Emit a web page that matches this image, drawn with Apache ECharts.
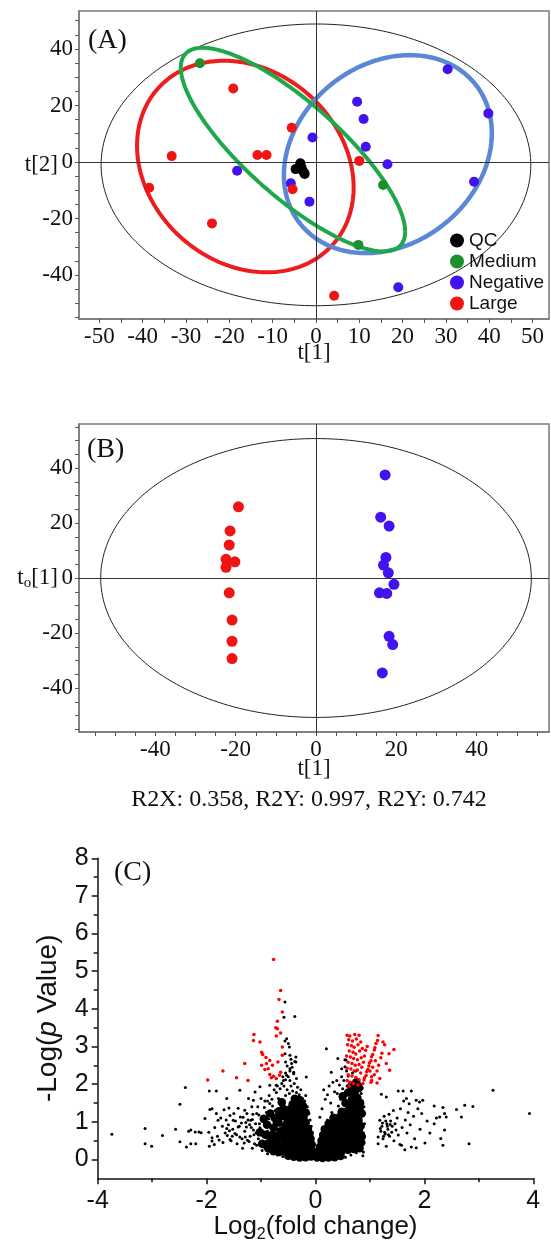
<!DOCTYPE html>
<html>
<head>
<meta charset="utf-8">
<script src="https://cdn.jsdelivr.net/npm/echarts@6/dist/echarts.min.js"></script>
<style>
html,body{margin:0;padding:0;background:#fff;}
#chart{width:551px;height:1247px;}
</style>
</head>
<body>
<div id="chart"></div>
<script>
// ---------- (A) PCA score plot: t[1] vs t[2] ----------
const qcScores = [[-3.6,-0.4],[-4.7,-2.5],[-3.3,-2.0],[-2.6,-4.2],[-2.9,-3.4]];
const mediumScores = [[-26.8,34.9],[15.5,-8.1],[9.8,-29.3]];
const negativeScores = [[-18.2,-3.1],[30.4,32.8],[39.8,17.2],[9.5,21.3],[11.0,15.2],[-0.8,8.7],
  [11.5,5.4],[16.5,-0.8],[36.5,-7.0],[-5.8,-7.5],[-1.5,-14.0],[19.0,-44.3]];
const largeScores = [[-19.1,26.0],[-33.3,2.1],[-13.5,2.5],[-11.4,2.5],[-38.5,-9.1],[-5.6,12.1],
  [10.0,0.4],[-5.4,-9.6],[4.2,-47.3],[-24.0,-21.7]];
// ellipses: [centre x, centre y, half width, half height, y offset of the rightmost point]
const t2EllipseA = [0, -1, 49.6, 49.8, 0];
const largeEllipse = [-16.3, -1.6, 25.0, 37.4, -7.4];
const mediumEllipse = [-5.3, 4.4, 25.9, 36.0, -29.0];
const negativeEllipse = [16.6, 2.8, 24.0, 35.0, 7.4];
const ticksAx = [-50,-45,-40,-35,-30,-25,-20,-15,-10,-5,0,5,10,15,20,25,30,35,40,45,50];
const labelsAx = [-50,-40,-30,-20,-10,0,10,20,30,40,50];
const ticksAy = [-55,-50,-45,-40,-35,-30,-25,-20,-15,-10,-5,0,5,10,15,20,25,30,35,40,45,50];
const labelsAy = [-40,-20,0,20,40];

// ---------- (B) OPLS-DA score plot: t[1] vs to[1] ----------
const oplsLarge = [[-19.3,25.9],[-21.4,17.1],[-21.6,12.0],[-22.4,6.8],[-20.2,5.9],[-22.4,3.9],
  [-21.6,-5.4],[-20.9,-15.3],[-20.9,-23.0],[-20.9,-29.3]];
const oplsNegative = [[17.2,37.5],[16.1,22.1],[18.2,18.9],[17.4,7.5],[16.8,4.7],[18.0,1.9],
  [19.4,-2.3],[15.8,-5.4],[17.6,-5.6],[18.2,-21.2],[19.1,-24.2],[16.5,-34.5]];
const t2EllipseB = [0, 0, 53.6, 50.7, 0];
const ticksBx = [-55,-50,-45,-40,-35,-30,-25,-20,-15,-10,-5,0,5,10,15,20,25,30,35,40,45,50,55];
const labelsBx = [-40,-20,0,20,40];
const ticksBy = [-55,-50,-45,-40,-35,-30,-25,-20,-15,-10,-5,0,5,10,15,20,25,30,35,40,45,50,55];
const labelsBy = [-40,-20,0,20,40];
const modelStats = 'R2X: 0.358, R2Y: 0.997, R2Y: 0.742';

// ---------- (C) volcano plot: log2(fold change) vs -log(p) ----------
// densely packed features near the centre
const volcanoCore = [
  [-0.50,0.10],[-0.40,0.07],[-0.29,0.05],[-0.18,0.06],[-0.08,0.08],
  [-0.54,0.27],[-0.44,0.24],[-0.34,0.21],[-0.23,0.22],[-0.12,0.20],[-0.05,0.22],
  [-0.56,0.43],[-0.46,0.40],[-0.36,0.38],[-0.25,0.39],[-0.14,0.36],[-0.07,0.40],
  [-0.58,0.59],[-0.48,0.57],[-0.38,0.55],[-0.27,0.56],[-0.17,0.53],[-0.09,0.55],
  [-0.52,0.74],[-0.41,0.72],[-0.31,0.71],[-0.20,0.70],[-0.11,0.68],
  [-0.55,0.89],[-0.45,0.87],[-0.35,0.86],[-0.24,0.85],[-0.14,0.82],
  [-0.50,1.04],[-0.39,1.02],[-0.29,1.01],[-0.18,0.98],
  [-0.53,1.19],[-0.43,1.17],[-0.32,1.16],[-0.22,1.13],
  [-0.47,1.33],[-0.36,1.32],[-0.26,1.29],[-0.18,1.25],
  [-0.42,1.47],[-0.32,1.46],[-0.23,1.42],
  [-0.38,1.61],[-0.29,1.58],
  [-0.66,0.30],[-0.70,0.52],[-0.64,0.75],[-0.68,0.98],[-0.62,1.15],[-0.75,0.40],[-0.80,0.65],
  [-0.67,0.20],[-0.77,0.22],[-0.87,0.30],[-0.73,0.63],[-0.84,0.47],[-0.92,0.66],[-0.77,0.84],
  [-0.89,0.92],[-0.67,1.28],[-0.75,1.10],[-0.98,0.42],[-1.02,0.72],[-0.83,1.22],[-0.59,1.35],
  [-0.62,1.52],[-0.95,1.08],[-0.70,0.38],[-0.60,0.22],
  [0.03,0.05],[0.13,0.04],[0.24,0.05],[0.35,0.06],[0.46,0.09],[-0.02,0.12],
  [0.06,0.19],[0.16,0.18],[0.27,0.19],[0.38,0.21],[0.49,0.23],[0.60,0.26],[0.71,0.28],[0.81,0.30],
  [0.08,0.34],[0.19,0.35],[0.30,0.36],[0.41,0.35],[0.52,0.38],[0.63,0.40],[0.74,0.43],[0.84,0.45],
  [0.11,0.50],[0.22,0.49],[0.33,0.52],[0.44,0.50],[0.55,0.54],[0.66,0.56],[0.77,0.58],[0.85,0.61],
  [0.14,0.65],[0.25,0.66],[0.36,0.67],[0.47,0.65],[0.58,0.69],[0.69,0.71],[0.80,0.74],
  [0.17,0.80],[0.28,0.81],[0.39,0.82],[0.50,0.80],[0.61,0.84],[0.72,0.86],[0.83,0.89],
  [0.24,0.95],[0.35,0.97],[0.46,0.95],[0.57,0.99],[0.68,1.01],[0.79,1.04],
  [0.33,1.11],[0.44,1.12],[0.55,1.14],[0.66,1.16],[0.77,1.19],[0.85,1.22],
  [0.48,1.27],[0.59,1.29],[0.70,1.32],[0.81,1.34],
  [0.62,1.44],[0.73,1.47],[0.82,1.50],
  [0.68,1.60],[0.77,1.63],
  [0.55,1.50],[0.50,1.68],[0.60,1.78],[0.72,1.78],[0.80,1.90],[0.66,1.95],[0.75,2.05]
];
// scattered non-significant features
const volcanoBlack = [
  [-3.74,0.67],[-3.13,0.82],[-3.13,0.42],[-3.01,0.35],[-2.81,0.64],[-2.57,0.80],[-2.49,1.47],[-2.49,0.47],
  [-2.39,1.91],[-2.33,0.75],[-2.29,0.78],[-2.37,0.33],[-2.29,0.42],[-2.20,0.42],[-2.14,0.73],[-2.21,0.73],
  [-2.10,0.71],[-2.03,1.09],[-1.95,1.82],[-1.82,1.82],[-1.94,1.33],[-1.90,1.35],[-1.96,0.72],[-1.95,0.35],
  [-1.90,0.58],[-1.90,0.49],[-1.79,1.04],[-1.63,1.62],[-1.59,1.37],[-1.63,0.82],[-1.62,0.64],[-1.57,1.17],
  [-1.51,1.04],[-1.57,0.53],[-1.48,0.69],[-1.42,0.86],[-1.39,1.84],[-1.38,1.13],[-1.39,0.60],[-1.30,1.31],
  [-1.27,0.86],[-1.25,0.51],[-1.19,1.04],[-1.14,1.57],[-1.14,0.78],[-1.08,0.38],[-1.11,1.79],[-1.08,1.22],
  [-1.03,0.95],[-0.96,0.64],[-0.90,1.13],[-0.84,1.49],[-0.81,0.33],[-0.75,0.86],[-1.02,1.93],
  [-1.12,0.42],[-1.05,0.55],[-1.09,0.71],[-1.02,0.84],[-1.10,0.95],[-0.98,1.02],[-1.04,1.18],[-0.96,0.33],
  [-0.92,0.47],[-0.95,0.62],[-0.88,0.75],[-0.93,0.90],[-0.86,1.08],[-0.90,1.25],[-0.84,0.22],[-0.81,0.40],
  [-0.85,0.58],[-0.78,0.68],[-0.82,0.85],[-0.76,0.98],[-0.80,1.15],[-0.74,1.30],[-0.79,1.42],[-0.72,0.27],
  [-0.70,0.45],[-0.74,0.55],[-0.67,0.63],[-0.71,0.80],[-0.64,0.91],[-0.69,1.05],[-0.62,1.19],[-0.66,1.36],
  [-0.61,1.50],[-0.68,1.62],[-0.63,0.18],[-0.60,0.33],[-0.58,0.50],[-0.61,0.72],[-0.59,0.82],[-0.57,1.00],
  [-0.60,1.10],[-0.56,1.28],[-0.58,1.44],[-0.55,1.70],[-0.52,1.85],[-0.48,1.75],[-0.45,1.95],[-0.42,1.82],
  [-0.39,2.02],[-0.35,1.78],[-0.33,1.92],[-0.30,1.72],[-0.27,1.85],[-0.24,1.62],[-0.20,1.55],[-0.18,1.70],
  [-0.15,1.40],[-0.12,1.22],[-0.10,1.05],[-0.08,0.88],[-0.06,0.72],[-0.04,0.38],[-0.03,0.25],
  [-1.20,0.62],[-1.18,0.85],[-1.24,1.05],[-1.15,1.20],[-1.22,0.48],[-1.30,0.75],[-1.35,0.55],[-1.28,0.98],
  [-1.33,1.12],[-1.40,0.88],[-1.45,0.66],[-1.52,0.80],[-1.47,1.02],[-1.55,0.50],[-1.60,0.92],[-1.66,0.70],
  [-1.70,0.45],[-1.74,1.10],[-1.80,0.62],[-1.85,0.85],
  [-1.16,0.30],[-1.21,0.92],[-1.26,1.22],[-1.31,0.44],[-1.36,0.97],[-1.42,1.36],[-1.44,0.42],[-1.50,1.22],
  [-1.53,0.62],[-1.58,0.76],[-1.64,1.05],[-1.68,1.32],[-1.71,0.88],[-1.77,0.52],[-1.82,1.22],[-1.86,0.40],
  [-1.17,1.40],[-1.23,1.62],[-1.29,0.60],[-1.34,0.30],[-1.06,1.40],[-1.00,1.62],[-0.94,1.38],[-0.98,0.24],
  [-0.88,0.15],[-0.93,1.55],[-1.13,0.66],[-1.16,1.06],
  [-0.88,1.55],[-0.85,1.70],[-0.80,1.60],[-0.76,1.85],[-0.72,1.78],[-0.70,1.95],[-0.65,1.88],[-0.62,2.02],
  [-0.58,1.95],[-0.55,2.12],[-0.50,2.20],[-0.47,2.35],[-0.43,2.45],[-0.40,2.28],[-0.38,2.60],[-0.45,2.66],
  [-0.52,2.48],[-0.55,2.30],[-0.60,2.20],
  [-0.56,4.18],[-0.38,3.80],[-0.58,3.78],[-0.53,3.21],[-0.56,3.15],[-0.50,3.08],[-0.48,2.99],[-0.56,2.81],
  [-0.47,2.77],[-0.36,2.72],[-0.55,2.59],[-0.44,2.55],[-0.36,2.59],[-0.47,2.41],[-0.40,2.32],[-0.53,2.24],
  [-0.59,2.10],[-0.47,2.10],[-0.35,2.15],[-0.17,2.19],[-0.72,1.97],[-0.84,1.97],
  [-0.22,0.95],[0.12,1.35],[0.18,1.60],[0.15,1.85],[0.08,1.12],[0.22,1.72],[0.20,2.94],[0.41,2.68],
  [0.54,2.65],[0.29,2.32],[0.39,2.10],[0.48,2.41],[0.54,2.46],[0.56,2.64],[0.32,2.05],[0.25,1.95],
  [0.35,1.80],[0.28,1.50],[0.30,1.25],[0.22,1.05],
  [0.42,1.42],[0.46,1.60],[0.40,1.75],[0.50,1.88],[0.44,1.98],[0.55,1.70],[0.58,1.95],[0.52,2.10],
  [0.60,2.22],[0.62,1.62],[0.66,1.80],[0.64,2.05],[0.68,2.30],[0.70,1.92],[0.72,1.68],[0.76,2.12],
  [0.78,1.85],[0.80,1.62],[0.82,2.00],[0.84,1.75],[0.86,1.55],[0.86,1.90],[0.74,2.35],[0.70,2.02],
  [0.57,2.35],[0.48,2.20],
  [0.88,0.20],[0.89,0.45],[0.88,0.70],[0.90,0.95],[0.88,1.18],[0.89,1.40],[0.87,0.10],
  [-0.40,0.02],[-0.25,0.01],[-0.10,0.02],[0.05,0.01],[0.20,0.02],[0.35,0.02],[0.55,0.06],[0.65,0.12],
  [0.75,0.18],[-0.60,0.08],[-0.70,0.12],
  [1.15,0.42],[1.15,0.60],[1.18,1.04],[1.20,0.75],[1.21,1.73],[1.22,0.88],[1.24,0.55],[1.26,1.15],
  [1.28,0.68],[1.30,0.35],[1.30,1.66],[1.31,0.95],[1.33,0.80],[1.35,1.20],[1.36,0.62],[1.38,1.02],
  [1.40,0.72],[1.41,0.88],[1.43,1.30],[1.44,0.50],[1.46,0.95],[1.48,0.78],[1.50,1.10],[1.52,1.82],
  [1.52,0.65],[1.55,0.40],[1.56,1.35],[1.58,0.38],[1.59,0.85],[1.61,1.82],[1.62,1.55],[1.64,0.26],
  [1.65,1.05],[1.67,1.62],[1.68,0.70],[1.70,1.25],[1.72,1.48],[1.74,0.92],[1.76,1.82],[1.76,0.33],
  [1.80,1.15],[1.82,0.55],[1.85,1.57],[1.85,0.31],[1.88,1.35],[1.91,1.53],[1.92,0.80],[1.95,1.22],
  [1.97,1.57],[2.01,0.44],[2.05,1.02],[2.10,0.70],[2.18,1.42],[2.18,0.95],[2.22,1.10],[2.28,1.13],
  [2.30,0.56],[2.34,1.38],[2.34,0.38],[2.37,1.22],[2.37,0.78],[2.40,1.13],[2.59,1.33],[2.68,1.13],
  [2.74,1.44],[2.82,0.42],[2.89,1.41],[3.26,1.84],[3.93,1.22],
  [1.19,0.82],[1.23,0.97],[1.27,0.72],[1.32,0.88],[1.34,0.66],[1.37,0.93],[1.25,0.62],[1.29,1.02]
];
// significantly changed features
const volcanoRed = [
  [-0.77,5.31],[-0.64,4.49],[-0.67,4.25],[-0.61,3.92],[-0.70,3.67],[-0.73,3.50],[-0.64,3.36],[-0.72,3.28],
  [-1.13,3.32],[-1.14,3.16],[-1.02,3.12],[-0.99,2.85],[-0.97,2.79],[-0.91,2.71],[-0.84,2.63],[-0.90,2.55],
  [-0.79,2.50],[-0.99,2.50],[-0.87,2.41],[-0.84,2.26],[-0.81,2.17],[-0.77,2.21],[-0.72,2.15],[-0.66,2.24],
  [-0.69,2.59],[-0.64,2.32],[-1.30,2.55],[-1.70,2.35],[-1.98,2.11],[-1.45,2.17],[-1.24,2.10],[-0.61,2.77],
  [-0.61,2.99],[-0.93,2.39],[-0.70,3.47],
  [0.87,2.02],[0.89,2.11],[0.90,2.17],[0.93,2.23],[0.94,2.33],[0.96,2.39],[0.98,2.48],[0.99,2.56],
  [1.02,2.62],[1.03,2.73],[1.05,2.79],[1.08,2.91],[1.09,2.97],[1.11,3.08],[1.14,3.16],[1.15,3.29],
  [0.58,3.30],[0.63,3.28],[0.72,3.32],[0.80,3.30],[0.61,3.18],[0.68,3.15],[0.75,3.20],[0.83,3.12],
  [0.59,3.05],[0.66,3.02],[0.71,2.98],[0.78,3.05],[0.86,2.95],[0.62,2.88],[0.69,2.85],[0.74,2.80],
  [0.81,2.88],[0.57,2.75],[0.64,2.72],[0.70,2.68],[0.77,2.65],[0.84,2.70],[0.60,2.58],[0.67,2.55],
  [0.73,2.50],[0.80,2.52],[0.88,2.58],[0.58,2.42],[0.65,2.40],[0.71,2.35],[0.77,2.38],[0.83,2.30],
  [0.60,2.25],[0.67,2.22],[0.74,2.18],[0.80,2.12],[0.58,2.10],[0.63,2.05],[0.70,2.02],[0.78,1.98],
  [0.62,1.95],[0.85,2.45],[0.90,2.75],[0.92,2.90],[0.95,3.00],
  [1.00,2.35],[1.03,2.20],[1.05,2.45],[1.08,2.25],[1.10,2.62],[1.13,2.35],[1.16,2.50],[1.20,2.70],
  [1.24,3.12],[1.27,3.05],[1.22,2.82],[1.35,2.81],[1.44,2.92],[1.36,2.37],[1.13,2.03],[1.18,2.15],
  [1.02,2.05],[1.30,2.55],[1.03,2.10]
];
const labelsCy = [0,1,2,3,4,5,6,7,8];
const minorTicksCy = [0.5,1.5,2.5,3.5,4.5,5.5,6.5,7.5];

// ---------- helpers ----------
function ellipsePath(p) {
  const [cx, cy, w, h, r] = p;
  const s = Math.sqrt(h * h - r * r);
  const pts = [];
  for (let i = 0; i <= 240; i++) {
    const t = 2 * Math.PI * i / 240;
    pts.push([cx + w * Math.cos(t), cy + r * Math.cos(t) + s * Math.sin(t)]);
  }
  return pts;
}
const SERIF = 'Liberation Serif';
const SANS = 'Liberation Sans';
const frameColor = '#7a7a7a';

function boxedX(gridIndex, min, max, ticks, labels, name, nameGap) {
  return {
    gridIndex, type: 'value', min, max,
    axisLine: { show: true, onZero: false, lineStyle: { color: frameColor, width: 1.5 } },
    axisTick: { show: true, customValues: ticks, length: 4, lineStyle: { color: '#555', width: 1 } },
    axisLabel: { customValues: labels, fontFamily: SERIF, fontSize: 23, color: '#111', margin: 6 },
    splitLine: { show: false },
    name, nameLocation: 'middle', nameGap, nameMoveOverlap: false,
    nameTextStyle: { fontFamily: SERIF, fontSize: 23, color: '#111', rich: {
      a: { fontFamily: SERIF, fontSize: 23, color: '#111', lineHeight: 26, verticalAlign: 'middle' },
      s: { fontFamily: SERIF, fontSize: 15, color: '#111', lineHeight: 10, verticalAlign: 'bottom' } } }
  };
}
function boxedY(gridIndex, min, max, ticks, labels, name, nameGap) {
  const ax = boxedX(gridIndex, min, max, ticks, labels, name, nameGap);
  ax.nameRotate = 0;
  ax.axisLabel.margin = 6;
  return ax;
}
function zeroLines() {
  return { silent: true, symbol: 'none', label: { show: false },
    lineStyle: { color: '#333', width: 1, type: 'solid' },
    data: [{ xAxis: 0 }, { yAxis: 0 }] };
}
function ring(name, p, xi, color, width, withZero) {
  const s = { name, type: 'line', xAxisIndex: xi, yAxisIndex: xi, data: ellipsePath(p),
    showSymbol: false, symbol: 'none', smooth: false, silent: true,
    lineStyle: { color, width }, z: 2 };
  if (withZero) s.markLine = zeroLines();
  return s;
}
function dots(name, data, xi, color, size, z) {
  return { name, type: 'scatter', xAxisIndex: xi, yAxisIndex: xi, data, symbolSize: size,
    itemStyle: { color, opacity: 1 }, z: z || 5 };
}

const chart = echarts.init(document.getElementById('chart'), null, { renderer: 'canvas' });
chart.setOption({
  animation: false,
  backgroundColor: '#fff',
  grid: [
    { left: 79, top: 11, width: 470, height: 308, show: true, borderColor: frameColor, borderWidth: 1.5, backgroundColor: 'transparent' },
    { left: 79, top: 424, width: 470, height: 308, show: true, borderColor: frameColor, borderWidth: 1.5, backgroundColor: 'transparent' },
    { left: 97.7, top: 858.3, width: 435.6, height: 320 }
  ],
  xAxis: [
    boxedX(0, -54.7, 53.8, ticksAx, labelsAx, 't[1]', 22),
    boxedX(1, -59, 58, ticksBx, labelsBx, 't[1]', 25),
    {
      gridIndex: 2, type: 'value', min: -4, max: 4, interval: 2,
      axisLine: { show: true, onZero: false, lineStyle: { color: '#111', width: 1.5 } },
      axisTick: { show: true, length: 6, lineStyle: { color: '#111', width: 1.5 } },
      minorTick: { show: true, splitNumber: 2, length: 4, lineStyle: { color: '#111', width: 1.5 } },
      axisLabel: { fontFamily: SANS, fontSize: 25, color: '#111', margin: 10 },
      splitLine: { show: false }, minorSplitLine: { show: false },
      name: '{a|Log}{s|2}{a|(fold change)}', nameLocation: 'middle', nameGap: 34, nameMoveOverlap: false,
      nameTextStyle: { fontFamily: SANS, fontSize: 26, color: '#111', rich: {
        a: { fontFamily: SANS, fontSize: 26, color: '#111', lineHeight: 30, verticalAlign: 'middle' },
        s: { fontFamily: SANS, fontSize: 16, color: '#111', lineHeight: 10, verticalAlign: 'bottom' } } }
    }
  ],
  yAxis: [
    boxedY(0, -55.5, 53.4, ticksAy, labelsAy, 't[2]', 21),
    boxedY(1, -56, 56, ticksBy, labelsBy, '{a|t}{s|o}{a|[1]}', 21),
    {
      gridIndex: 2, type: 'value', min: -0.5, max: 8,
      axisLine: { show: true, onZero: false, lineStyle: { color: '#111', width: 1.5 } },
      axisTick: { show: true, customValues: labelsCy, length: 6, lineStyle: { color: '#111', width: 1.5 } },
      axisLabel: { customValues: labelsCy, fontFamily: SANS, fontSize: 25, color: '#111', margin: 9 },
      splitLine: { show: false },
      name: '-Log({i|p} Value)', nameLocation: 'middle', nameGap: 35, nameRotate: 90, nameMoveOverlap: false,
      nameTextStyle: { fontFamily: SANS, fontSize: 28, color: '#111', rich: {
        i: { fontFamily: SANS, fontSize: 28, fontStyle: 'italic', color: '#111' } } }
    },
    {
      gridIndex: 2, type: 'value', min: -0.5, max: 8, position: 'left',
      axisLine: { show: false, onZero: false },
      axisTick: { show: true, customValues: minorTicksCy, length: 4, lineStyle: { color: '#111', width: 1.5 } },
      axisLabel: { show: false }, splitLine: { show: false }
    }
  ],
  legend: {
    data: ['QC', 'Medium', 'Negative', 'Large'],
    orient: 'vertical', left: 450, top: 231, padding: 0,
    itemWidth: 14, itemHeight: 14, itemGap: 2, icon: 'circle',
    textStyle: { fontFamily: SANS, fontSize: 19, color: '#111' },
    selectedMode: false
  },
  graphic: [
    { type: 'text', left: 88, top: 27, style: { text: '(A)', font: '28px "Liberation Serif"', fill: '#111' } },
    { type: 'text', left: 87, top: 436, style: { text: '(B)', font: '28px "Liberation Serif"', fill: '#111' } },
    { type: 'text', left: 114, top: 859, style: { text: '(C)', font: '28px "Liberation Serif"', fill: '#111' } },
    { type: 'text', x: 309, y: 800, style: { text: modelStats, font: '24px "Liberation Serif"', fill: '#111', align: 'center', verticalAlign: 'middle' } }
  ],
  series: [
    ring('T2 A', t2EllipseA, 0, '#222', 1, true),
    ring('Large ellipse', largeEllipse, 0, '#ee1c1c', 4),
    ring('Negative ellipse', negativeEllipse, 0, '#5a88d6', 4.5),
    ring('Medium ellipse', mediumEllipse, 0, '#1fa84a', 4),
    dots('QC', qcScores, 0, '#000', 10),
    dots('Medium', mediumScores, 0, '#1e8f2e', 10),
    dots('Negative', negativeScores, 0, '#4212ef', 10),
    dots('Large', largeScores, 0, '#ef1515', 10),

    ring('T2 B', t2EllipseB, 1, '#222', 1, true),
    dots('Large (OPLS-DA)', oplsLarge, 1, '#ef1515', 11),
    dots('Negative (OPLS-DA)', oplsNegative, 1, '#4212ef', 11),

    dots('Unchanged (dense)', volcanoCore, 2, '#000', 8.5, 3),
    dots('Unchanged', volcanoBlack, 2, '#000', 3, 3),
    dots('Changed', volcanoRed, 2, '#f00', 3.5, 4)
  ]
});
</script>
</body>
</html>
